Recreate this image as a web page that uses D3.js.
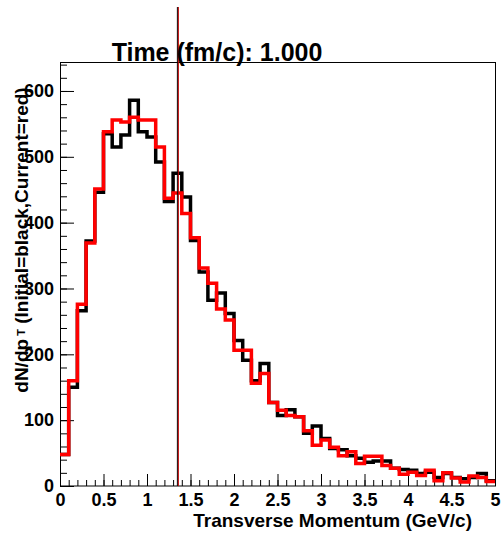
<!DOCTYPE html>
<html>
<head>
<meta charset="utf-8">
<script src="https://cdn.jsdelivr.net/npm/d3@7"></script>
<style>
    body { margin: 0; background: #fff; }
    text { font-family: "Liberation Sans", Arial, Helvetica, sans-serif; font-weight: bold; fill: #000; }
</style>
</head>
<body>
<svg id="chart" width="502" height="534"></svg>
<script>
// lower edge of each pT bin (GeV/c)
var binStart = [0.0, 0.1, 0.2, 0.3, 0.4, 0.5, 0.6, 0.7, 0.8, 0.9,
    1.0, 1.1, 1.2, 1.3, 1.4, 1.5, 1.6, 1.7, 1.8, 1.9,
    2.0, 2.1, 2.2, 2.3, 2.4, 2.5, 2.6, 2.7, 2.8, 2.9,
    3.0, 3.1, 3.2, 3.3, 3.4, 3.5, 3.6, 3.7, 3.8, 3.9,
    4.0, 4.1, 4.2, 4.3, 4.4, 4.5, 4.6, 4.7, 4.8, 4.9];
var binWidth = 0.1;

// initial spectrum (black)
var initialCounts = [48, 150, 266, 372, 446, 535, 515, 533, 586, 538,
    530, 492, 432, 475, 439, 373, 325, 282, 293, 262,
    221, 191, 160, 186, 127, 107, 116, 105, 80, 91,
    72, 57, 55, 46, 42, 36, 38, 38, 27, 25,
    24, 19, 21, 13, 19, 13, 11, 13, 19, 8];

// current spectrum (red)
var currentCounts = [48, 160, 276, 369, 451, 538, 556, 553, 560, 556,
    556, 515, 437, 445, 414, 377, 331, 308, 269, 252,
    206, 206, 156, 171, 127, 115, 107, 105, 84, 62,
    70, 59, 46, 52, 34, 45, 45, 31, 27, 18,
    21, 16, 24, 8, 20, 12, 6, 15, 13, 7];

var markerPt = 1.355;
var xTickLabels = [0, 0.5, 1, 1.5, 2, 2.5, 3, 3.5, 4, 4.5, 5];
var yTickLabels = [0, 100, 200, 300, 400, 500, 600];
var titleText = 'Time (fm/c): 1.000';

var svg = d3.select('#chart');

var x = d3.scaleLinear().domain([0, 5]).range([60, 495]);
var y = d3.scaleLinear().domain([0, 644]).range([486, 62]);

// frame
svg.append('rect')
    .attr('x', 60.5).attr('y', 62.5)
    .attr('width', 435).attr('height', 423.5)
    .attr('fill', 'none')
    .attr('stroke', '#000')
    .attr('stroke-width', 1);

// x axis: majors with labels, minors without
var xMajor = svg.append('g')
    .attr('transform', 'translate(0,486)')
    .call(d3.axisBottom(x).tickValues(xTickLabels).tickSizeInner(-12).tickSizeOuter(0).tickPadding(7)
        .tickFormat(function (d) { return String(d); }));
var xMinor = svg.append('g')
    .attr('transform', 'translate(0,486)')
    .call(d3.axisBottom(x).tickValues(d3.range(0, 5.001, 0.1)).tickSizeInner(-6).tickSizeOuter(0).tickFormat(''));

// y axis
var yMajor = svg.append('g')
    .attr('transform', 'translate(60,0)')
    .call(d3.axisLeft(y).tickValues(yTickLabels).tickSizeInner(-14).tickSizeOuter(0).tickPadding(6));
var yMinor = svg.append('g')
    .attr('transform', 'translate(60,0)')
    .call(d3.axisLeft(y).tickValues(d3.range(0, 641, 20)).tickSizeInner(-7).tickSizeOuter(0).tickFormat(''));

svg.selectAll('.domain').remove();
svg.selectAll('.tick line').attr('stroke', '#000').attr('stroke-width', 1);
svg.selectAll('.tick text')
    .attr('font-size', 18)
    .attr('font-family', '"Liberation Sans", Arial, sans-serif')
    .attr('font-weight', 'bold')
    .attr('fill', '#000');

// step outline of a histogram
function histPoints(counts) {
    var pts = binStart.map(function (b, i) { return [x(b), y(counts[i])]; });
    var last = binStart.length - 1;
    pts.push([x(binStart[last] + binWidth), y(counts[last])]);
    return pts;
}
var step = d3.line().curve(d3.curveStepAfter);

svg.append('path')
    .attr('d', step(histPoints(initialCounts)))
    .attr('fill', 'none')
    .attr('stroke', '#000')
    .attr('stroke-width', 3.5);

svg.append('path')
    .attr('d', step(histPoints(currentCounts)))
    .attr('fill', 'none')
    .attr('stroke', '#ff0000')
    .attr('stroke-width', 3.5);

// vertical marker line (dark edge + red)
svg.append('line')
    .attr('x1', x(markerPt) - 0.5).attr('x2', x(markerPt) - 0.5)
    .attr('y1', 7).attr('y2', 486)
    .attr('stroke', '#000')
    .attr('stroke-width', 1);
svg.append('line')
    .attr('x1', x(markerPt) + 0.5).attr('x2', x(markerPt) + 0.5)
    .attr('y1', 7).attr('y2', 486)
    .attr('stroke', '#c00000')
    .attr('stroke-width', 1);

// title
svg.append('text')
    .attr('x', 217)
    .attr('y', 61)
    .attr('text-anchor', 'middle')
    .attr('font-size', 25)
    .text(titleText);

// x title
svg.append('text')
    .attr('x', 472)
    .attr('y', 527)
    .attr('text-anchor', 'end')
    .attr('font-size', 19)
    .text('Transverse Momentum (GeV/c)');

// y title
var yt = svg.append('text')
    .attr('transform', 'translate(28,240) rotate(-90)')
    .attr('text-anchor', 'middle')
    .attr('font-size', 19);
yt.append('tspan').text('dN/dp');
yt.append('tspan').attr('font-size', 11).attr('dy', -3).text(' T');
yt.append('tspan').attr('dy', 3).text('   (Initial=black,Current=red)');
</script>
</body>
</html>
